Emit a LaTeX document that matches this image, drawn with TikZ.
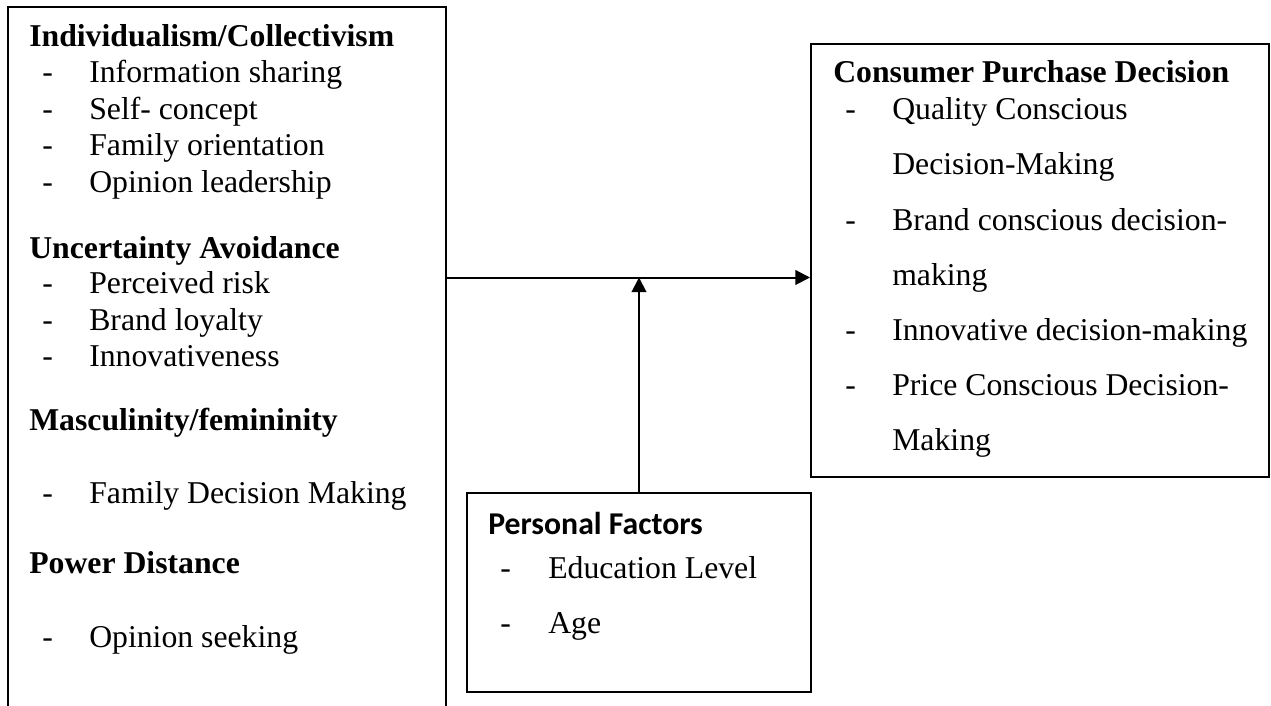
\documentclass[tikz,border=0pt]{standalone}
\usepackage{fontspec}
\setmainfont{Liberation Serif}
\newfontfamily\pfsans{Carlito}
\usetikzlibrary{arrows.meta,fit}

\tikzset{
  box/.style={draw, line width=1.5pt, inner sep=0pt},
  hd/.style={anchor=base west, inner sep=0pt, font=\fontsize{23.8}{28}\selectfont\bfseries},
  itm/.style={anchor=base west, inner sep=0pt, font=\fontsize{23.8}{28}\selectfont},
  arr/.style={line width=1.5pt, -{Triangle[length=11pt,width=11pt]}}
}

\begin{document}
\begin{tikzpicture}[x=0.75pt,y=0.75pt,yscale=-1,xscale=1]
    \useasboundingbox (0,0) rectangle (1271,706);
    % Boxes
    \node [box, fit={(8,7) (446,730)}] (cult) {};
    \node [box, fit={(811,44) (1269,477)}] (cpd) {};
    \node [box, fit={(467,493) (811,692)}] (pf) {};
    % Text Node
    \node [hd] (ich) at (29,46.7) {Individualism/Collectivism};
    \node [itm] (icd1) at (42,83) {-};
    \node [itm] (ic1) at (89,83) {Information sharing};
    \node [itm] (icd2) at (42,119.5) {-};
    \node [itm] (ic2) at (89,119.5) {Self- concept};
    \node [itm] (icd3) at (42,156) {-};
    \node [itm] (ic3) at (89,156) {Family orientation};
    \node [itm] (icd4) at (42,192.5) {-};
    \node [itm] (ic4) at (89,192.5) {Opinion leadership};
    % Text Node
    \node [hd] (uah) at (29,258) {Uncertainty Avoidance};
    \node [itm] (uad1) at (42,293) {-};
    \node [itm] (ua1) at (89,293) {Perceived risk};
    \node [itm] (uad2) at (42,330) {-};
    \node [itm] (ua2) at (89,330) {Brand loyalty};
    \node [itm] (uad3) at (42,366.5) {-};
    \node [itm] (ua3) at (89,366.5) {Innovativeness};
    % Text Node
    \node [hd] (mfh) at (29,430) {Masculinity/femininity};
    \node [itm] (mfd1) at (42,503) {-};
    \node [itm] (mf1) at (89,503) {Family Decision Making};
    % Text Node
    \node [hd] (pdh) at (29,573) {Power Distance};
    \node [itm] (pdd1) at (42,647) {-};
    \node [itm] (pd1) at (89,647) {Opinion seeking};
    % Text Node
    \node [hd] (cpdh) at (833,83) {Consumer Purchase Decision};
    \node [itm] (cpdd1) at (845,120) {-};
    \node [itm] (cpd1) at (892,120) {Quality Conscious};
    \node [itm] (cpd1b) at (892,175) {Decision-Making};
    \node [itm] (cpdd2) at (845,230) {-};
    \node [itm] (cpd2) at (892,230) {Brand conscious decision-};
    \node [itm] (cpd2b) at (892,285) {making};
    \node [itm] (cpdd3) at (845,340) {-};
    \node [itm] (cpd3) at (892,340) {Innovative decision-making};
    \node [itm] (cpdd4) at (845,395) {-};
    \node [itm] (cpd4) at (892,395) {Price Conscious Decision-};
    \node [itm] (cpd4b) at (892,450) {Making};
    % Text Node
    \node [hd, font=\fontsize{23.8}{28}\selectfont\pfsans\bfseries] (pfh) at (488,534) {Personal Factors};
    \node [itm] (pfd1) at (500,578) {-};
    \node [itm] (pf1) at (548,578) {Education Level};
    \node [itm] (pfd2) at (500,633) {-};
    \node [itm] (pf2) at (548,633) {Age};
    % Arrows
    \coordinate (jn) at (639,277.5);
    \draw [arr] (cult.east |- jn) -- (cpd.west |- jn);
    \draw [arr] (pf.north) -- (jn);
\end{tikzpicture}
\end{document}
